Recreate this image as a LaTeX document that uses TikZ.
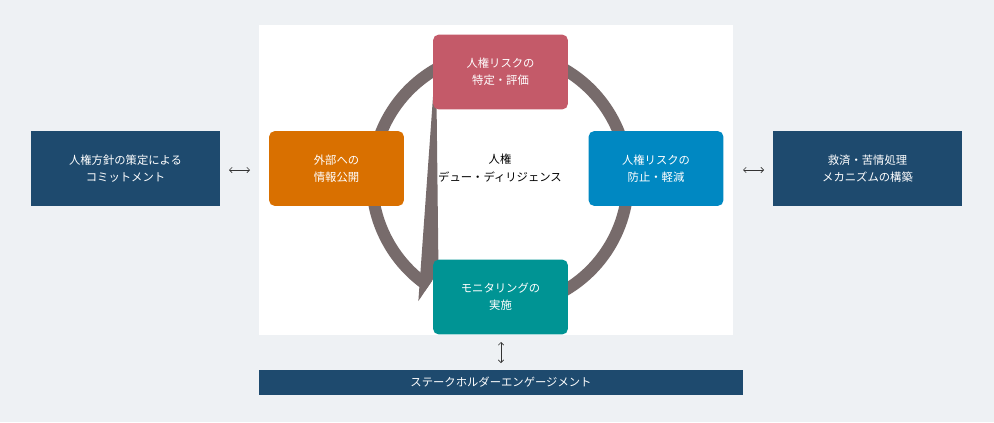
\documentclass[tikz,border=0pt]{standalone}
\usepackage{fontspec}
\setmainfont{Noto Sans CJK JP}
\usetikzlibrary{arrows.meta}
\definecolor{bg}{HTML}{EEF1F4}
\definecolor{navy}{HTML}{1E4A6E}
\definecolor{ring}{HTML}{776B6B}
\begin{document}
\begin{tikzpicture}[x=0.75pt,y=-0.75pt,
 box/.style={rounded corners=4pt,minimum width=101pt,minimum height=56pt,text=white,align=center,font=\fontsize{8.5}{13}\selectfont,inner sep=0pt},
 nb/.style={fill=navy,minimum width=141.75pt,minimum height=56pt,text=white,align=center,font=\fontsize{8.5}{13}\selectfont,inner sep=0pt},
 dbl/.style={{Straight Barb[length=2pt]}-{Straight Barb[length=2pt]},line width=0.5pt,draw=black!80}]
\useasboundingbox (0,0) rectangle (994,422);
\fill[bg] (0,0) rectangle (994,422);
\fill[white] (259,25) rectangle (733,335);
\draw[ring,line width=9pt] (500,180) ++(60:128) arc[start angle=60,end angle=-236,radius=128];
\fill[ring] (500,180) ++(-236:110) -- ++(30:-0pt) -- (436,55) -- ([shift={(500,180)}]-236:146) -- cycle;
\node[box,fill={rgb,255:red,196;green,90;blue,105}] (t) at (500.5,72) {人権リスクの\\特定・評価};
\node[box,fill={rgb,255:red,0;green,136;blue,194}] (r) at (656,168.5) {人権リスクの\\防止・軽減};
\node[box,fill={rgb,255:red,0;green,148;blue,148}] (b) at (500.5,297) {モニタリングの\\実施};
\node[box,fill={rgb,255:red,217;green,112;blue,0}] (l) at (336.5,168.5) {外部への\\情報公開};
\node[align=center,font=\fontsize{8.5}{13}\selectfont] (c) at (500,168) {人権\\デュー・ディリジェンス};
\node[nb] (ol) at (125.5,168.5) {人権方針の策定による\\コミットメント};
\node[nb] (or) at (867.5,168.5) {救済・苦情処理\\メカニズムの構築};
\node[fill=navy,minimum width=363pt,minimum height=19pt,text=white,font=\fontsize{8.5}{10}\selectfont,inner sep=0pt] (sb) at (501,382.5) {ステークホルダーエンゲージメント};
\coordinate (a1) at (229,170); \coordinate (a2) at (250,170);
\coordinate (a3) at (743,170); \coordinate (a4) at (764,170);
\coordinate (a5) at (501,342); \coordinate (a6) at (501,363);
\draw[dbl] (a1) -- (a2);
\draw[dbl] (a3) -- (a4);
\draw[dbl] (a5) -- (a6);
\end{tikzpicture}
\end{document}
